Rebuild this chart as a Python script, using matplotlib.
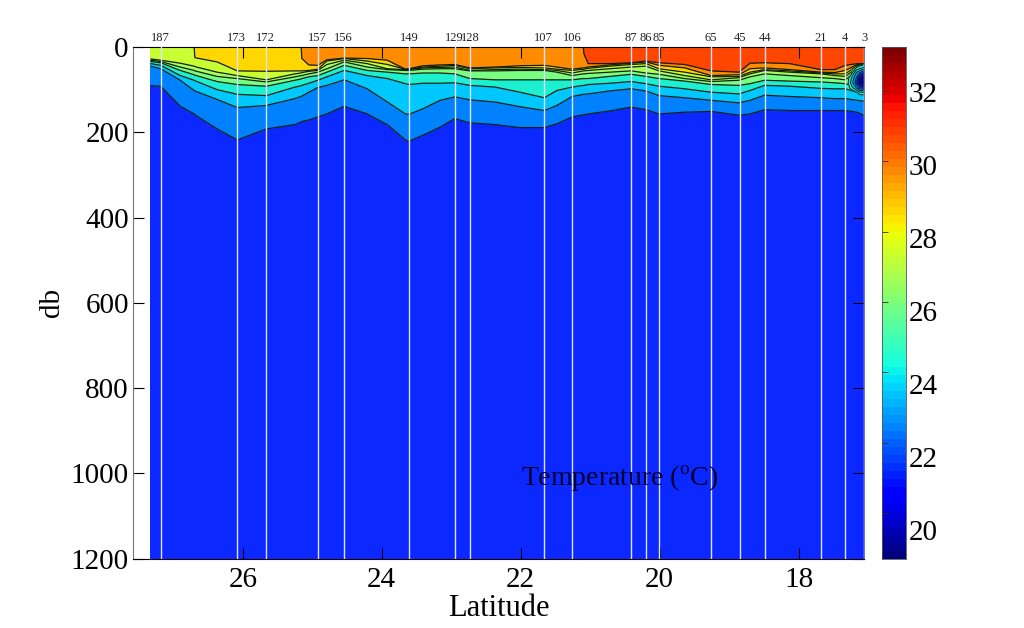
import numpy as np
import matplotlib
matplotlib.use('Agg')
import matplotlib.pyplot as plt

plt.rcParams['font.family'] = ['Liberation Serif', 'DejaVu Serif']
plt.rcParams['mathtext.fontset'] = 'custom'
plt.rcParams['mathtext.rm'] = 'Liberation Serif'

# stations along the section
station_names = ['187', '173', '172', '157', '156', '149', '129', '128', '107', '106',
                 '87', '86', '85', '65', '45', '44', '21', '4', '3']
station_lat = [27.18, 26.09, 25.67, 24.92, 24.55, 23.61, 22.95, 22.73, 21.67, 21.26,
               20.41, 20.20, 20.01, 19.26, 18.85, 18.49, 17.68, 17.34, 17.06]

# latitudes where the isotherm depths were read
lat = [27.33, 27.18, 26.90, 26.70, 26.69, 26.37, 26.08, 25.66, 25.25, 25.16, 25.15, 25.05,
       24.92, 24.79, 24.54, 24.21, 23.92, 23.66, 23.61, 23.41, 23.16, 22.95, 22.73, 22.37,
       22.01, 21.66, 21.48, 21.26, 21.10, 21.09, 21.03, 20.72, 20.41, 20.20, 20.01, 19.64,
       19.26, 18.86, 18.70, 18.49, 18.13, 17.68, 17.48, 17.33, 17.16, 17.06]

# depth (db) of each isotherm at those latitudes
iso_30 = [0] * 29 + [16, 39, 39, 37, 33, 37, 41, 56, 59, 38, 37, 39, 53, 53, 43, 39, 39]
iso_29 = [0] * 10 + [27, 42, 43, 30, 26, 27, 31, 52, 51, 44, 42, 41, 49, 47, 44, 43, 47, 52,
                     49, 49, 47, 42, 38, 35, 43, 49, 67, 65, 51, 49, 53, 59, 60, 55, 41, 40]
iso_28 = [0, 0, 0, 0, 25, 35, 56, 57, 56, 56, 56, 55, 52, 33, 27, 33, 41, 52, 52, 47, 45, 43,
          51, 49, 48, 49, 52, 55, 52, 52, 50, 45, 41, 39, 51, 59, 70, 69, 59, 53, 56, 61, 63,
          63, 44, 42]
iso_27 = [28, 31, 38, 45, 46, 59, 67, 77, 63, 61, 60, 57, 55, 41, 31, 39, 51, 53, 53, 49, 48,
          47, 55, 53, 52, 53, 55, 61, 56, 56, 55, 51, 47, 45, 56, 67, 77, 72, 63, 55, 59, 63,
          67, 69, 49, 45]
iso_26 = [31, 34, 47, 55, 56, 69, 74, 82, 70, 67, 67, 63, 59, 51, 35, 47, 53, 55, 55, 52, 51,
          51, 56, 56, 55, 55, 59, 67, 63, 63, 62, 59, 56, 61, 64, 74, 81, 78, 70, 63, 67, 72,
          74, 77, 55, 49]
iso_25 = [34, 37, 55, 65, 66, 81, 88, 92, 78, 75, 74, 70, 67, 59, 43, 55, 59, 63, 63, 61, 61,
          63, 74, 77, 77, 77, 77, 77, 74, 74, 74, 69, 64, 69, 74, 80, 88, 90, 86, 78, 80, 82,
          84, 86, 94, 106]
iso_24 = [39, 43, 67, 78, 79, 100, 111, 114, 94, 91, 90, 85, 78, 70, 55, 67, 74, 86, 88, 85,
          85, 84, 90, 94, 106, 119, 102, 94, 90, 90, 88, 85, 81, 86, 92, 98, 106, 110, 102, 90,
          92, 97, 98, 98, 106, 111]
iso_23 = [45, 51, 78, 102, 103, 123, 142, 137, 121, 116, 115, 106, 95, 90, 77, 98, 129, 157,
          158, 145, 125, 117, 124, 129, 140, 149, 137, 116, 111, 111, 110, 103, 98, 103, 114,
          119, 125, 131, 125, 113, 116, 119, 121, 121, 125, 127]
iso_22 = [91, 92, 139, 157, 159, 192, 218, 192, 182, 176, 175, 171, 164, 157, 139, 157, 182,
          218, 221, 207, 188, 168, 178, 182, 189, 189, 180, 164, 159, 159, 157, 150, 141, 147,
          157, 153, 151, 160, 157, 147, 149, 149, 149, 149, 153, 160]

# cold lens at the southern end
lens_lat = [17.32, 17.24, 17.17, 17.12, 17.06]
lens_depth = [36, 48, 60, 72, 84, 96, 108, 120]
lens_temp = [[26, 26, 26, 26, 26],
             [26, 26, 25, 24.5, 24],
             [26, 25.5, 23, 22, 21],
             [26, 24, 22, 20, 19.5],
             [26, 23.5, 21.5, 19.8, 19.3],
             [26, 24.5, 23, 21.5, 21],
             [26, 26, 25.5, 24.5, 24.5],
             [26, 26, 26, 26, 26]]

lat_ticks = [26, 24, 22, 20, 18]
db_ticks = [0, 200, 400, 600, 800, 1000, 1200]
cbar_ticks = [20, 22, 24, 26, 28, 30, 32]

levels = [21, 22, 23, 24, 25, 26, 27, 28, 29, 30, 31]
band_colors = ['#0a28ff', '#0082ff', '#00c8ff', '#1cf0d0', '#78ff82', '#a8ff5a',
               '#c8ff32', '#ffd700', '#ff8c00', '#ff4600']
lens_levels = [19, 20, 21, 22, 23, 24, 25]
lens_colors = ['#00008f', '#0000e0', '#0a28ff', '#0082ff', '#00c8ff', '#1cf0d0']

# build the curvilinear section, one row per isotherm
n = len(lat)
depth = np.array([[0] * n, iso_30, iso_29, iso_28, iso_27, iso_26, iso_25, iso_24, iso_23,
                  iso_22, [1200] * n], dtype=float)
temp_rows = [31, 30, 29, 28, 27, 26, 25, 24, 23, 22, 21]
X = np.tile(lat, (len(temp_rows), 1))
Z = np.array([[t] * n for t in temp_rows], dtype=float)

W, H = 1024, 628
fig = plt.figure(figsize=(W / 100, H / 100), dpi=100)
ax = fig.add_axes([133 / W, 1 - 558.7 / H, 731 / W, 511.7 / H])

ax.contourf(X, depth, Z, levels=levels, colors=band_colors, zorder=1)
ax.contour(X, depth, Z, levels=levels[1:-1], colors='#102010', linewidths=0.9, zorder=2)
ax.contourf(lens_lat, lens_depth, lens_temp, levels=lens_levels, colors=lens_colors, zorder=3)
ax.contour(lens_lat, lens_depth, lens_temp, levels=lens_levels[1:], colors='#102010',
           linewidths=0.7, zorder=4)

for la, name in zip(station_lat, station_names):
    ax.axvline(la, color='#dce4ff', lw=1, zorder=5)
    ax.text(la, -21, name, ha='center', va='center', fontsize=9, color='#222222')

ax.set_xlim(27.58, 17.06)
ax.set_ylim(1200, 0)
ax.set_xticks(lat_ticks)
ax.set_yticks(db_ticks)
ax.tick_params(direction='in', length=8, width=0.8, top=True, right=True, labelsize=21, pad=3)
ax.tick_params(axis='x', pad=6)
ax.spines['left'].set_color('#777777')
ax.spines['right'].set_color('#7078b0')
ax.set_xlabel('Latitude', fontsize=22, labelpad=1)
ax.set_ylabel('db', fontsize=21, labelpad=4)
ax.text(22.0, 1012, 'Temperature ($^{\\mathrm{o}}$C)', fontsize=20, va='center', ha='left',
        color='#000030', zorder=6)

# colourbar: the tick marks and the printed numbers sit on slightly different scales
cax = fig.add_axes([882 / W, 1 - 559 / H, 24 / W, 512 / H])
gradient = np.linspace(0, 1, 64).reshape(-1, 1)
cax.imshow(gradient, cmap='jet', aspect='auto', origin='lower', extent=[0, 1, 18.7, 33.25])
cax.set_xticks([])
cax.set_yticks(cbar_ticks)
cax.set_yticklabels([])
cax.tick_params(direction='in', length=4, width=0.6, left=True, right=True, color='#402020')
for s in cax.spines.values():
    s.set_color('#555555')
    s.set_linewidth(0.6)
lab = cax.twinx()
lab.set_ylim(19.2, 33.23)
lab.set_yticks(cbar_ticks)
lab.tick_params(length=0, labelsize=21, pad=2)
for s in lab.spines.values():
    s.set_visible(False)

fig.savefig('out.png', dpi=100)
